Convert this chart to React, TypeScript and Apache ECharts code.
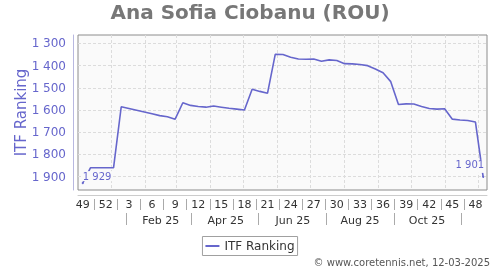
import { useEffect, useRef } from 'react';
import * as echarts from 'echarts';

// ---- data ----
const titleText = 'Ana Sofia Ciobanu (ROU)';
const seriesName = 'ITF Ranking';
const creditText = '© www.coretennis.net, 12-03-2025';

// weekly ITF ranking, first point = week 49 of 2024 (6 Dec 2024), last = week 49 of 2025
const rankings = [
  1929, 1860, 1860, 1860, 1860, 1585, 1593, 1601, 1609, 1617, 1625, 1630, 1641,
  1567, 1579, 1584, 1587, 1582, 1587, 1592, 1596, 1600, 1506, 1516, 1524, 1349,
  1350, 1362, 1370, 1371, 1370, 1380, 1374, 1377, 1391, 1392, 1395, 1400, 1415,
  1432, 1472, 1575, 1572, 1573, 1584, 1593, 1596, 1594, 1641, 1645, 1647, 1654,
  1901,
];
const weekLabels = ['49', '52', '3', '6', '9', '12', '15', '18', '21', '24', '27', '30', '33', '36', '39', '42', '45', '48'];
const monthLabels = ['Feb 25', 'Apr 25', 'Jun 25', 'Aug 25', 'Oct 25'];
const monthLabelMonths = [1, 3, 5, 7, 9];
const monthSepMonths = [0, 2, 4, 6, 8, 10];
const gridMonths = [0, 1, 2, 3, 4, 5, 6, 7, 8, 9, 10, 11];
const yTicks = [1300, 1400, 1500, 1600, 1700, 1800, 1900];

// ---- calendar helpers (x = days since first ranking date) ----
const START = Date.UTC(2024, 11, 6);
const DAY = 86400000;
const dayOf = (y: number, m: number, d: number) => (Date.UTC(y, m, d) - START) / DAY;

const FONT = 'DejaVu Sans';
const BLUE = '#6666cc';
const X_MIN = -4.3;
const X_MAX = 367.5;

const fmtNum = (v: number) => {
  const th = Math.floor(v / 1000);
  const rest = String(Math.round(v) % 1000).padStart(3, '0');
  return th > 0 ? `${th} ${rest}` : String(Math.round(v));
};

export default function App() {
  const ref = useRef<HTMLDivElement>(null);

  useEffect(() => {
    if (!ref.current) return;
    const chart = echarts.init(ref.current, undefined, { renderer: 'svg' });

    const weekLabelPos = weekLabels.map((_, k) => 21 * k);
    const weekSepPos = weekLabels.slice(0, -1).map((_, k) => 21 * k + 10.5);
    const monthLabelPos = monthLabelMonths.map((m) => dayOf(2025, m, 15));
    const monthSepPos = monthSepMonths.map((m) => dayOf(2025, m, 15));
    const monthGrid = gridMonths.map((m) => dayOf(2025, m, 1));

    const baseX: any = {
      type: 'value',
      gridIndex: 0,
      position: 'bottom',
      min: X_MIN,
      max: X_MAX,
      axisLine: { show: false, onZero: false },
      axisTick: { show: false },
      axisLabel: { show: false },
      splitLine: { show: false },
    };

    const last = rankings.length - 1;
    const data = rankings.map((v, i) => {
      if (i === 0 || i === last) {
        return {
          value: [7 * i, v],
          symbol: 'circle',
          symbolSize: 2,
          label: {
            show: true,
            position: 'top',
            align: i === 0 ? 'left' : 'right',
            distance: i === 0 ? 1 : 3,
            offset: i === 0 ? [-1, 0] : [2, 0],
            padding: i === 0 ? [0, 1] : [0, 1, 3, 1],
          },
        };
      }
      return { value: [7 * i, v] };
    });

    chart.setOption({
      animation: false,
      textStyle: { fontFamily: FONT },
      title: {
        text: titleText,
        left: 'center',
        top: 2,
        padding: 0,
        textStyle: { fontSize: 20, fontWeight: 'bold', color: '#777', fontFamily: FONT },
      },
      legend: {
        data: [{ name: seriesName, icon: 'rect' }],
        left: 'center',
        top: 236.5,
        padding: [3, 3, 3, 3],
        itemWidth: 14,
        itemHeight: 2,
        borderColor: '#a0a0a0',
        borderWidth: 1,
        borderRadius: 0,
        textStyle: { color: '#333', fontSize: 12, fontFamily: FONT, lineHeight: 13 },
      },
      grid: {
        left: 78,
        top: 35,
        width: 409,
        height: 155,
        show: true,
        backgroundColor: '#fafafa',
        borderColor: '#8c8c8c',
        borderWidth: 1,
        containLabel: false,
        outerBoundsMode: 'none',
      },
      xAxis: [
        { ...baseX },
        {
          ...baseX,
          axisTick: { show: false, customValues: monthGrid },
          splitLine: { show: true, lineStyle: { color: '#dcdcdc', type: [3, 2], width: 1 } },
        },
        {
          ...baseX,
          offset: 5,
          axisLine: { show: true, onZero: false, lineStyle: { color: '#cccccc', width: 1 } },
          axisLabel: {
            show: true,
            customValues: weekLabelPos,
            formatter: (v: number) => weekLabels[Math.round(v / 21)] ?? '',
            color: '#333',
            fontSize: 11,
            margin: 4,
            fontFamily: FONT,
          },
        },
        {
          ...baseX,
          offset: 9,
          axisTick: { show: true, customValues: weekSepPos, length: 11, lineStyle: { color: '#aaaaaa' } },
        },
        {
          ...baseX,
          offset: 23,
          axisTick: { show: true, customValues: monthSepPos, length: 12, lineStyle: { color: '#aaaaaa' } },
          axisLabel: {
            show: true,
            customValues: monthLabelPos,
            formatter: (v: number) => {
              const k = monthLabelPos.findIndex((p) => Math.abs(p - v) < 0.5);
              return k >= 0 ? monthLabels[k] : '';
            },
            color: '#333',
            fontSize: 11,
            margin: 2,
            fontFamily: FONT,
          },
        },
      ],
      yAxis: {
        type: 'value',
        inverse: true,
        min: 1262,
        max: 1960,
        position: 'left',
        offset: 5,
        axisLine: { show: true, onZero: false, lineStyle: { color: '#b8b8e0', width: 1 } },
        axisTick: { show: false, customValues: yTicks },
        axisLabel: {
          customValues: yTicks,
          formatter: (v: number) => fmtNum(v),
          color: BLUE,
          fontSize: 12,
          margin: 7,
          fontFamily: FONT,
        },
        splitLine: { show: true, lineStyle: { color: '#dcdcdc', type: [3, 2], width: 1 } },
        name: seriesName,
        nameLocation: 'middle',
        nameGap: 45,
        nameMoveOverlap: false,
        nameTextStyle: { color: BLUE, fontSize: 15, fontFamily: FONT },
      },
      series: [
        {
          type: 'line',
          name: seriesName,
          xAxisIndex: 0,
          yAxisIndex: 0,
          symbol: 'none',
          lineStyle: { color: BLUE, width: 1.6 },
          itemStyle: { color: BLUE },
          emphasis: { disabled: true },
          label: {
            show: false,
            formatter: (p: any) => fmtNum(p.value[1]),
            color: BLUE,
            fontSize: 10,
            fontFamily: FONT,
            backgroundColor: '#fafafa',
            padding: [0, 1],
          },
          data,
          z: 3,
        },
      ],
      graphic: [
        {
          type: 'text',
          x: 490,
          y: 262,
          style: {
            text: creditText,
            fill: '#555',
            font: `10px "${FONT}"`,
            align: 'right',
            verticalAlign: 'middle',
          },
        },
      ],
    });

    return () => chart.dispose();
  }, []);

  return <div ref={ref} style={{ position: 'fixed', left: 0, top: 0, width: 500, height: 270 }} />;
}
